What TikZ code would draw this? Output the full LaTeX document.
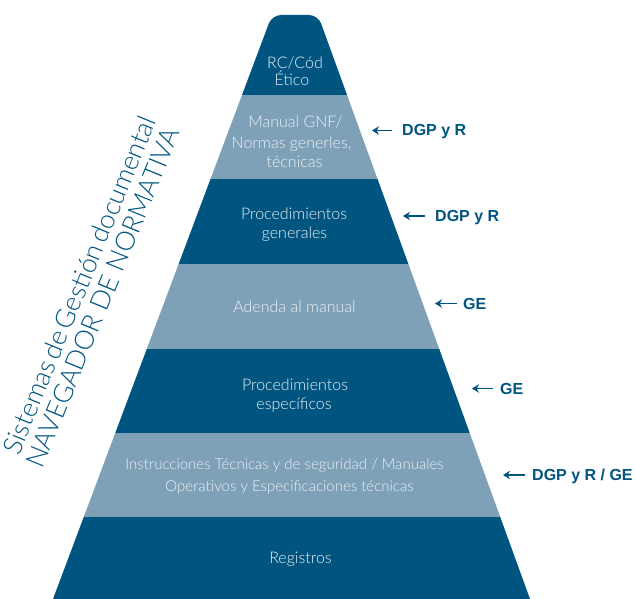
\documentclass[tikz,border=0pt]{standalone}
\usepackage{fontspec}
\setmainfont{Liberation Sans}
\newfontfamily\bandfont{Lato}[UprightFont=* Light]
\usetikzlibrary{arrows.meta}
\definecolor{pdark}{RGB}{0,85,128}
\definecolor{plight}{RGB}{127,161,184}
\definecolor{ptxt}{RGB}{236,241,245}
\begin{document}
\begin{tikzpicture}[x=1pt,y=-1pt,
  bandtxt/.style={inner sep=0pt, anchor=base, text=ptxt, font=\bandfont\fontsize{16}{19}\selectfont},
  smalltxt/.style={bandtxt, font=\bandfont\fontsize{15}{18}\selectfont},
  lbl/.style={inner sep=0pt, anchor=base west, text=pdark, font=\bfseries\fontsize{16}{19}\selectfont},
  arr/.style={draw=pdark, line width=1.6pt, -{Stealth[length=7pt,width=8.5pt]}},
  rottxt/.style={inner sep=0pt, anchor=base west, rotate=67.7, text=pdark, font=\bandfont\fontsize{26.5}{28}\selectfont}]
\useasboundingbox (0,0) rectangle (635,599);
\begin{scope}
\clip (53,599) [rounded corners=9] -- (272,15) -- (318,15) [sharp corners] -- (530,599) -- cycle;
\fill[pdark]  (0,0)     rectangle (635,95);
\fill[plight] (0,95)    rectangle (635,179.5);
\fill[pdark]  (0,179.5) rectangle (635,264);
\fill[plight] (0,264)   rectangle (635,348.5);
\fill[pdark]  (0,348.5) rectangle (635,433);
\fill[plight] (0,433)   rectangle (635,517);
\fill[pdark]  (0,517)   rectangle (635,599);
\end{scope}
% band texts
\node[bandtxt] (b1a) at (295,68.3) {RC/Cód};
\node[bandtxt] (b1b) at (292,85.7) {Ético};
\node[bandtxt] (b2a) at (295.5,127.3) {Manual GNF/};
\node[bandtxt] (b2b) at (291.5,148.3) {Normas generles,};
\node[bandtxt] (b2c) at (294.5,167.3) {técnicas};
\node[bandtxt] (b3a) at (294,219.3) {Procedimientos};
\node[bandtxt] (b3b) at (294.5,238.3) {generales};
\node[bandtxt] (b4)  at (294.5,312.3) {Adenda al manual};
\node[bandtxt] (b5a) at (295,390) {Procedimientos};
\node[bandtxt] (b5b) at (294,409.3) {específicos};
\node[smalltxt] (b6a) at (284.5,469.3) {Instrucciones Técnicas y de seguridad / Manuales};
\node[smalltxt] (b6b) at (289.5,491.7) {Operativos y Especificaciones técnicas};
\node[bandtxt] (b7)  at (300.5,563.3) {Registros};
% labels and arrows
\node[lbl] (l1) at (402,136) {DGP y R};
\node[lbl] (l2) at (435,221.5) {DGP y R};
\node[lbl] (l3) at (463,309) {GE};
\node[lbl] (l4) at (500,394) {GE};
\node[lbl] (l5) at (532,480.5) {DGP y R / GE};
\coordinate (t1) at (372,130.5);
\coordinate (t2) at (403,216);
\coordinate (t3) at (435,303.5);
\coordinate (t4) at (472,388.5);
\coordinate (t5) at (503,475);
\draw[arr] ([shift={(-10,-5.5)}]l1.base west) -- (t1);
\draw[arr] ([shift={(-10,-5.5)}]l2.base west) -- (t2);
\draw[arr] ([shift={(-6,-5.5)}]l3.base west) -- (t3);
\draw[arr] ([shift={(-7,-5.5)}]l4.base west) -- (t4);
\draw[arr] ([shift={(-7,-5.5)}]l5.base west) -- (t5);
% rotated title
\node[rottxt] (r1) at (19,457) {\spaceskip=0.15em Sistemas de Gestión documental};
\node[rottxt] (r2) at (42,470) {NAVEGADOR DE NORMATIVA};
\end{tikzpicture}
\end{document}
